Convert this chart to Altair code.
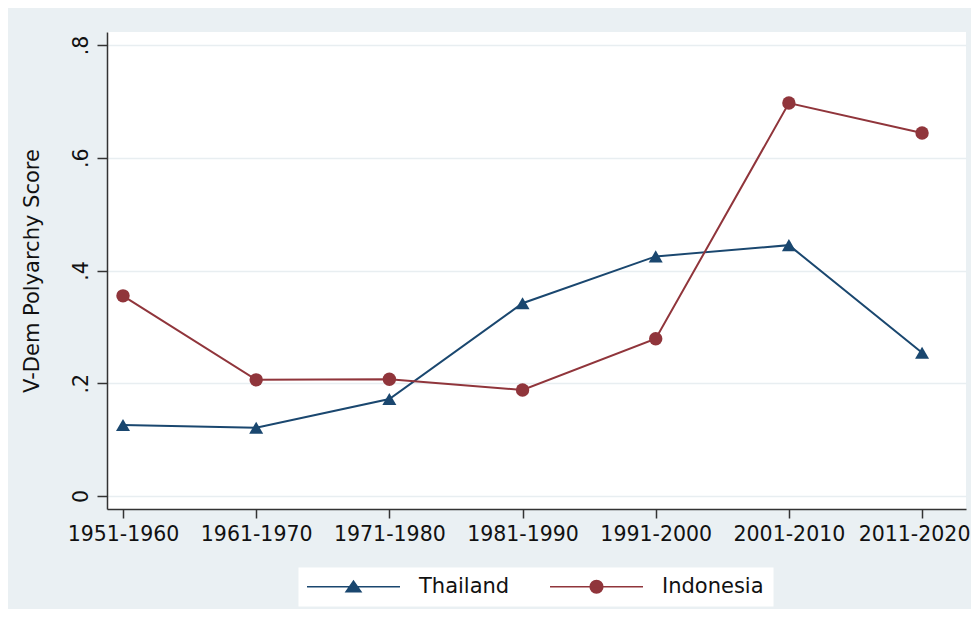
import altair as alt
import pandas as pd

periods = ["1951-1960", "1961-1970", "1971-1980", "1981-1990",
           "1991-2000", "2001-2010", "2011-2020"]
thailand = [0.126, 0.121, 0.172, 0.342, 0.425, 0.445, 0.254]
indonesia = [0.355, 0.206, 0.207, 0.188, 0.279, 0.697, 0.644]
countries = ["Thailand", "Indonesia"]
colors = ["#1a476f", "#90353b"]
y_ticks = [0, 0.2, 0.4, 0.6, 0.8]

rows = []
for i, p in enumerate(periods):
    rows.append({"period": p, "country": "Thailand", "value": thailand[i], "order": 0})
for i, p in enumerate(periods):
    rows.append({"period": p, "country": "Indonesia", "value": indonesia[i], "order": 1})
df = pd.DataFrame(rows)

FONT = "DejaVu Sans"
TXT = "#111111"

x_enc = alt.X("period:O", sort=periods,
              scale=alt.Scale(type="point", padding=0.225, align=0.267),
              axis=alt.Axis(title=None, labelAngle=0, labelFontSize=20.5, labelFont=FONT,
                            labelColor=TXT, tickSize=9, tickColor="#333333", tickWidth=1.5,
                            domainColor="#333333", domainWidth=1.5, labelPadding=6, grid=False,
                            labelOffset={"condition": {"test": "datum.value == '%s'" % periods[-1], "value": -8},
                                         "value": 0}))
y_enc = alt.Y("value:Q",
              scale=alt.Scale(domain=[-0.0231, 0.8231], nice=False, zero=False),
              axis=alt.Axis(title="V-Dem Polyarchy Score", values=y_ticks,
                            labelExpr="datum.value == 0 ? '0' : replace(format(datum.value, '.1f'), '0.', '.')",
                            labelAngle=270, labelAlign="center", labelBaseline="bottom",
                            labelFontSize=20.5, labelFont=FONT, labelColor=TXT, labelPadding=6,
                            tickSize=10, tickColor="#333333", tickWidth=1.5,
                            domainColor="#333333", domainWidth=1.5,
                            titleFont=FONT, titleFontSize=21, titleFontWeight="normal",
                            titleColor=TXT, titlePadding=29,
                            grid=True, gridColor="#e8eef1", gridWidth=1.5))

color_scale = alt.Scale(domain=countries, range=colors)
is_thai = "datum.country == 'Thailand'"

# legend symbols: a line with the series marker in the middle
thai_path = "M-6.64,0H6.64M0,-0.8L1.05,0.7L-1.05,0.7Z"
indo_path = "M-6.64,0H6.64M0.9,0A0.9,0.9,0,1,1,-0.9,0A0.9,0.9,0,1,1,0.9,0Z"

legend = alt.Legend(
    title=None, orient="none", legendX=191, legendY=535, direction="horizontal",
    fillColor="white", strokeColor="transparent", padding=9,
    symbolSize=196, symbolStrokeWidth=1.6, symbolOffset=36, labelOffset=55,
    symbolOpacity=1, columnPadding=36, labelFont=FONT, labelFontSize=21, labelColor=TXT)

base = alt.Chart(df)

lines = base.mark_line(strokeWidth=2).encode(
    x=x_enc, y=y_enc,
    detail="country:N",
    color=alt.condition(is_thai, alt.value(colors[0]), alt.value(colors[1])),
    order=alt.Order("order:Q"),
)

points = base.mark_point(filled=True, opacity=1).encode(
    x=x_enc, y=y_enc,
    color=alt.condition(is_thai, alt.value(colors[0]), alt.value(colors[1])),
    shape=alt.condition(is_thai, alt.value("triangle-up"), alt.value("circle")),
    size=alt.condition(is_thai, alt.value(196), alt.value(180)),
)

legend_layer = base.transform_filter("false").mark_point(filled=True, opacity=1, strokeWidth=1.6).encode(
    x=x_enc, y=y_enc,
    color=alt.Color("country:N", scale=color_scale, legend=legend),
    stroke=alt.Stroke("country:N", scale=color_scale, legend=legend),
    shape=alt.Shape("country:N", scale=alt.Scale(domain=countries, range=[thai_path, indo_path]), legend=legend),
)

chart = alt.layer(lines, points, legend_layer).properties(
    width=859, height=477,
    autosize=alt.AutoSizeParams(type="none"),
    padding={"left": 99, "top": 24, "right": 5, "bottom": 100},
    background="#eaf0f3",
).configure_view(fill="white", stroke=None)

chart.save("out.html", embed_options={"renderer": "svg", "actions": False})
